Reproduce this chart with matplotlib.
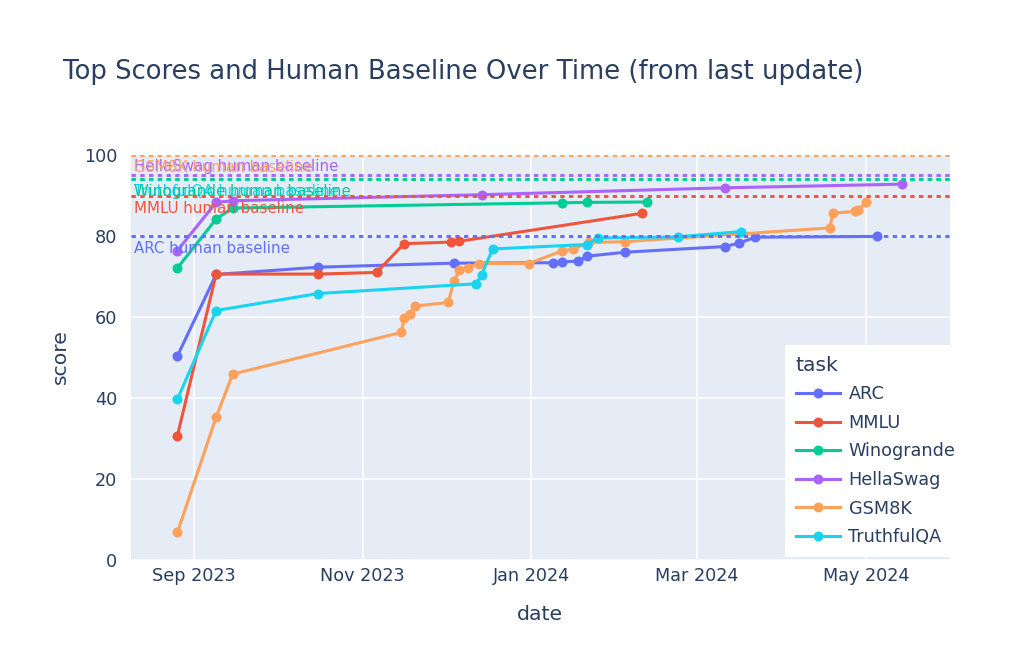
import numpy as np
import pandas as pd
import matplotlib
matplotlib.use("Agg")
import matplotlib.pyplot as plt
import matplotlib.dates as mdates
from matplotlib.lines import Line2D

# ---------------- data ----------------
tasks = ["ARC", "MMLU", "Winogrande", "HellaSwag", "GSM8K", "TruthfulQA"]

arc_dates = ["2023-08-26", "2023-09-09", "2023-10-16", "2023-12-04", "2024-01-09",
             "2024-01-12", "2024-01-18", "2024-01-21", "2024-02-04", "2024-03-11",
             "2024-03-16", "2024-03-22", "2024-05-05"]
arc_scores = [50.4, 70.5, 72.3, 73.3, 73.4, 73.6, 73.8, 75.0, 76.0, 77.4, 78.2, 79.7, 79.9]

mmlu_dates = ["2023-08-26", "2023-09-09", "2023-10-16", "2023-11-06", "2023-11-16",
              "2023-12-03", "2023-12-06", "2024-02-10"]
mmlu_scores = [30.7, 70.6, 70.6, 71.0, 78.1, 78.5, 78.7, 85.6]

wino_dates = ["2023-08-26", "2023-09-09", "2023-09-15", "2024-01-12", "2024-01-21", "2024-02-12"]
wino_scores = [72.1, 84.2, 86.9, 88.2, 88.3, 88.4]

hella_dates = ["2023-08-26", "2023-09-09", "2023-09-15", "2023-12-14", "2024-03-11", "2024-05-14"]
hella_scores = [76.4, 88.3, 88.7, 90.2, 91.9, 92.8]

gsm_dates = ["2023-08-26", "2023-09-09", "2023-09-15", "2023-11-15", "2023-11-16",
             "2023-11-18", "2023-11-20", "2023-12-02", "2023-12-04", "2023-12-06",
             "2023-12-09", "2023-12-13", "2023-12-31", "2024-01-12", "2024-01-16",
             "2024-01-22", "2024-02-04", "2024-04-18", "2024-04-19", "2024-04-27",
             "2024-04-28", "2024-05-01"]
gsm_scores = [6.8, 35.3, 45.9, 56.2, 59.8, 60.8, 62.7, 63.6, 69.0, 71.5, 72.2, 73.2,
              73.2, 76.3, 76.7, 78.4, 78.6, 82.0, 85.6, 86.1, 86.3, 88.3]

tqa_dates = ["2023-08-26", "2023-09-09", "2023-10-16", "2023-12-12", "2023-12-14",
             "2023-12-18", "2024-01-21", "2024-01-25", "2024-02-23", "2024-03-17"]
tqa_scores = [39.7, 61.6, 65.8, 68.2, 70.4, 76.8, 77.9, 79.5, 79.8, 81.1]

human_baselines = [80.0, 89.8, 94.0, 95.0, 100.0, 94.0]

x_tick_dates = ["2023-09-01", "2023-11-01", "2024-01-01", "2024-03-01", "2024-05-01"]
x_tick_labels = ["Sep 2023", "Nov 2023", "Jan 2024", "Mar 2024", "May 2024"]
y_ticks = [0, 20, 40, 60, 80, 100]

colors = ["#636EFA", "#EF553B", "#00CC96", "#AB63FA", "#FFA15A", "#19D3F3"]

series = [
    (arc_dates, arc_scores),
    (mmlu_dates, mmlu_scores),
    (wino_dates, wino_scores),
    (hella_dates, hella_scores),
    (gsm_dates, gsm_scores),
    (tqa_dates, tqa_scores),
]

# ---------------- style ----------------
TXT = "#2a3f5f"
BG = "#E5ECF6"
plt.rcParams["font.family"] = ["DejaVu Sans"]

W, H = 1028, 659
fig = plt.figure(figsize=(W / 100, H / 100), dpi=100)
L, R, T, B = 131, 950, 155, 560
ax = fig.add_axes([L / W, 1 - B / H, (R - L) / W, (B - T) / H])
ax.set_facecolor(BG)
for s in ax.spines.values():
    s.set_visible(False)

# lines with markers
handles = []
for (d, v), c, name in zip(series, colors, tasks):
    dd = pd.to_datetime(d)
    ln, = ax.plot(dd, v, color=c, lw=2.2, marker="o", ms=7.2, mew=0,
                  solid_joinstyle="round", zorder=3, label=name)
    handles.append(ln)

# human baselines (dotted), draw TruthfulQA first so Winogrande is on top
order = [5, 0, 1, 2, 3, 4]
for i in order:
    c = colors[i]
    yv = human_baselines[i]
    ax.axhline(yv, color=c, lw=2.1, ls=(0, (1.5, 1.5)), dash_capstyle="butt",
               zorder=4)
    name = tasks[i] + " human baseline"
    if tasks[i] == "HellaSwag":
        ax.annotate(name, xy=(0, yv), xycoords=("axes fraction", "data"),
                    xytext=(2, 1), textcoords="offset points",
                    ha="left", va="bottom", color=c, fontsize=10.8, zorder=5)
    else:
        ax.annotate(name, xy=(0, yv), xycoords=("axes fraction", "data"),
                    xytext=(2, -3.5), textcoords="offset points",
                    ha="left", va="top", color=c, fontsize=10.8, zorder=5)

# axes ranges / ticks
ax.set_xlim(pd.Timestamp("2023-08-09 05:00"), pd.Timestamp("2024-05-31 10:00"))
ax.set_ylim(0, 100)
ax.set_xticks(pd.to_datetime(x_tick_dates))
ax.set_xticklabels(x_tick_labels)
ax.set_yticks(y_ticks)
ax.set_yticklabels([str(t) for t in y_ticks])
ax.tick_params(axis="both", length=0, colors=TXT, labelsize=12.7)
ax.tick_params(axis="x", pad=5)
ax.tick_params(axis="y", pad=10)
ax.grid(True, color="white", lw=1.1, zorder=0)
ax.set_axisbelow(True)

# titles
fig.text(63 / W, 1 - 72 / H, "Top Scores and Human Baseline Over Time (from last update)",
         ha="left", va="center", fontsize=18.6, color=TXT)
fig.text(540 / W, 1 - 614 / H, "date", ha="center", va="center", fontsize=14.7, color=TXT)
fig.text(60 / W, 1 - 357 / H, "score", ha="center", va="center", rotation=90,
         fontsize=14.7, color=TXT)

# legend
leg = fig.legend(handles=handles, labels=tasks, title="task",
                 loc="upper left", bbox_to_anchor=(785 / W, 1 - 345 / H),
                 bbox_transform=fig.transFigure, borderaxespad=0,
                 frameon=True, facecolor="white", edgecolor="none", fancybox=False,
                 framealpha=1, fontsize=12.7, title_fontsize=14.7,
                 handlelength=2.5, handletextpad=0.5, labelspacing=0.6,
                 borderpad=0.6, alignment="left")
for t in leg.get_texts():
    t.set_color(TXT)
leg.get_title().set_color(TXT)
leg.set_zorder(10)

fig.savefig("out.png", dpi=100)
